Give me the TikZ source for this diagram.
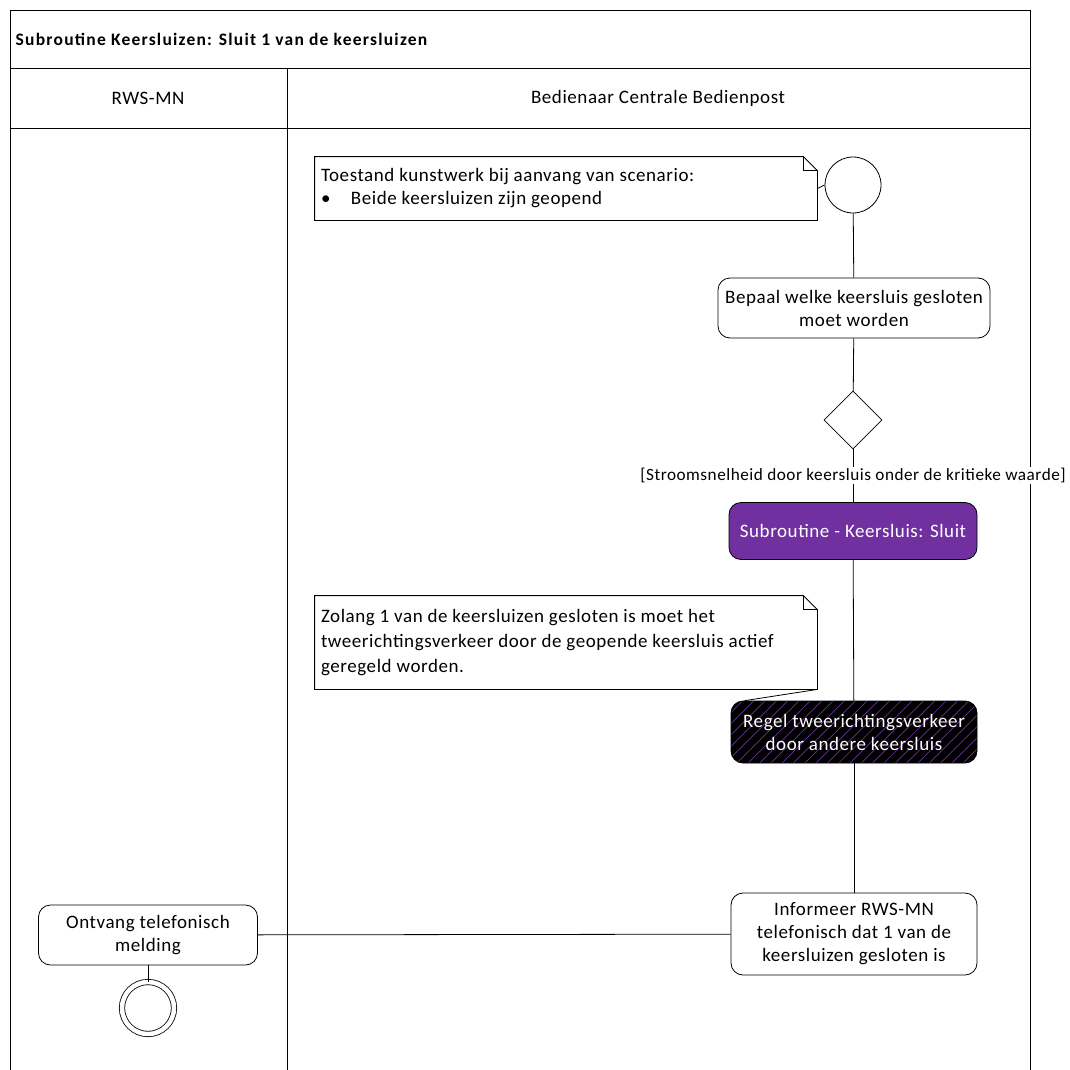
\documentclass[tikz,border=0pt]{standalone}
\usepackage{fontspec}
\setmainfont{Carlito}[LetterSpace=3]
\usepackage{tikz}
\usetikzlibrary{shapes.geometric, patterns.meta, calc}
\definecolor{subpurple}{RGB}{112, 48, 160}

\begin{document}
\begin{tikzpicture}[
  x=1pt, y=-1pt,
  line width=0.8pt,
  every node/.style={font=\fontsize{19}{23}\selectfont},
  action/.style={draw, rounded corners=12pt, align=center, inner sep=4pt},
  subact/.style={action, fill=subpurple, text=white},
  hatchact/.style={action, text=white, preaction={fill=black},
    pattern={Lines[angle=45, distance=8pt, line width=0.7pt]}, pattern color=subpurple},
  note/.style={align=flush left, minimum width=502pt, text width=490pt, inner sep=6pt},
  guardlbl/.style={fill=white, inner sep=1pt, font=\fontsize{17.2}{20}\selectfont},
  startnode/.style={draw, circle, minimum size=56pt, inner sep=0pt},
  endnode/.style={draw, circle, double, double distance=4.5pt, minimum size=52pt, inner sep=0pt}
]
  \useasboundingbox (0,0) rectangle (1070,1070);

  % Kader en zwembanen
  \draw (10,1070) -- (10,10) -- (1030,10) -- (1030,1070);
  \draw (10,68) -- (1030,68);
  \draw (10,128) -- (1030,128);
  \draw (287,68) -- (287,1070);
  \node[anchor=west, font=\bfseries\fontsize{17.5}{20}\selectfont\addfontfeatures{LetterSpace=7}] (title) at (12,39) {Subroutine Keersluizen: Sluit 1 van de keersluizen};
  \node (lane1) at (148,98) {RWS-MN};
  \node (lane2) at (658,98) {Bedienaar Centrale Bedienpost};

  % Bedienaar
  \node[startnode] (start) at (853,185) {};
  \node[note, minimum height=63pt] (nstart) at (566,188.5) {Toestand kunstwerk bij aanvang van scenario:\\ \makebox[30pt][l]{\textbullet}Beide keersluizen zijn geopend};
  \node[action, minimum width=272pt, minimum height=60pt] (bepaal) at (854,308) {Bepaal welke keersluis gesloten\\ moet worden};
  \node[draw, diamond, minimum size=58pt, inner sep=0pt] (dec) at (853,420) {};
  \node[subact, minimum width=248pt, minimum height=57pt] (sub) at (853,531) {Subroutine - Keersluis: Sluit};
  \node[note, minimum height=93pt, font=\fontsize{19}{25}\selectfont] (nregel) at (566,642.5) {Zolang 1 van de keersluizen gesloten is moet het\\ tweerichtingsverkeer door de geopende keersluis actief\\ geregeld worden.};
  \node[hatchact, minimum width=246pt, minimum height=62pt] (regel) at (854,732) {Regel tweerichtingsverkeer\\ door andere keersluis};
  \node[action, minimum width=246pt, minimum height=82pt] (info) at (854,934) {Informeer RWS-MN\\ telefonisch dat 1 van de\\ keersluizen gesloten is};

  % RWS-MN
  \node[action, minimum width=219pt, minimum height=60pt] (ontvang) at (148,935) {Ontvang telefonisch\\ melding};
  \node[endnode] (eind) at (148,1008) {};

  % notities met omgevouwen hoek
  \foreach \n in {nstart, nregel} {
    \draw (\n.south west) -- (\n.north west) -- ([xshift=-14pt]\n.north east)
      -- ([yshift=-14pt]\n.north east) -- (\n.south east) -- cycle;
    \draw ([xshift=-14pt]\n.north east) |- ([yshift=-14pt]\n.north east);
  }

  % Verbindingen
  \draw (nstart.east) -- (start.west);
  \draw (start) -- (bepaal);
  \draw (bepaal) -- (dec);
  \draw (dec) -- (sub) node[guardlbl, midway] (guard) {[Stroomsnelheid door keersluis onder de kritieke waarde]};
  \draw (sub) -- (regel);
  \draw (nregel.south east) -- ([xshift=14pt]regel.north west);
  \draw (regel) -- (info);
  \draw (info) -- (ontvang);
  \draw (ontvang) -- (eind);

\end{tikzpicture}
\end{document}
